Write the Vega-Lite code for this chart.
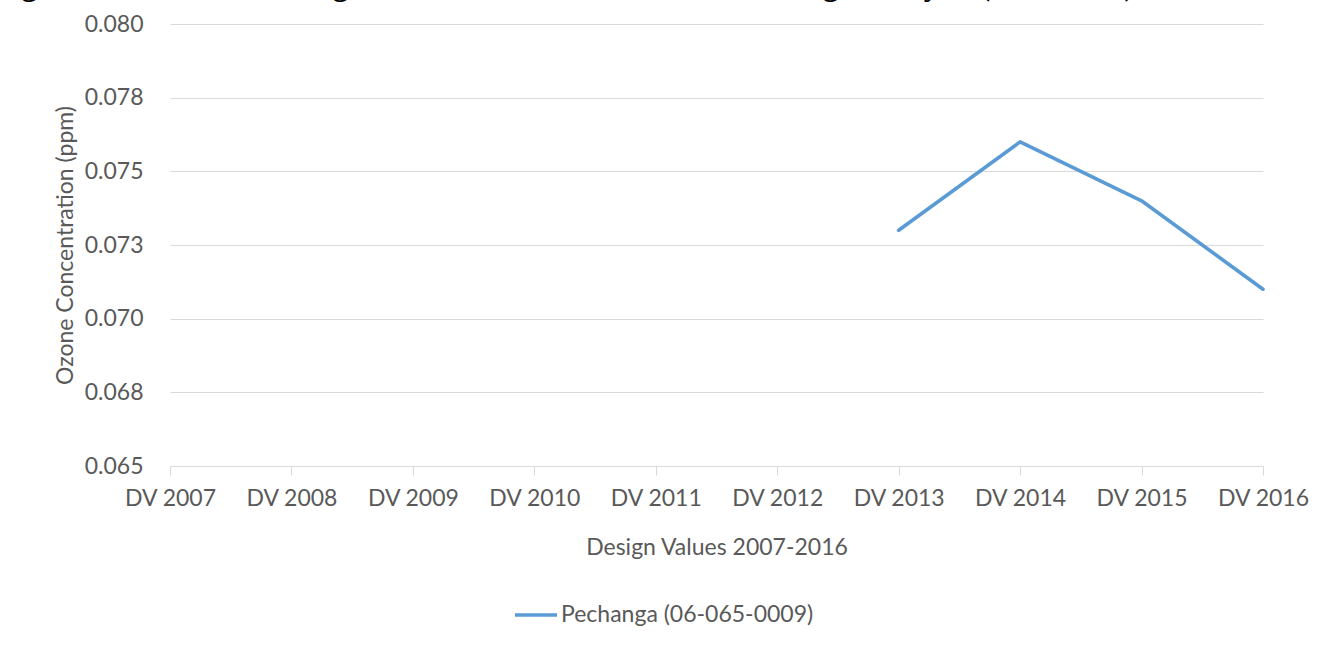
{
  "$schema": "https://vega.github.io/schema/vega-lite/v6.json",
  "autosize": {"type": "none"},
  "width": 1093,
  "height": 442,
  "padding": {"left": 170, "top": 24, "right": 68, "bottom": 179},
  "background": "white",
  "title": {
    "text": "Figure S1. Historical Design Values for Monitors in the Pechanga Analysis (2007-2016).",
    "anchor": "start",
    "frame": "group",
    "dx": -176,
    "dy": 13,
    "offset": 0,
    "baseline": "alphabetic",
    "font": "Liberation Serif",
    "fontSize": 31,
    "fontWeight": "bold",
    "color": "#000000"
  },
  "config": {
    "view": {"stroke": null},
    "font": "Lato"
  },
  "data": {
    "values": [
      {"dv": "DV 2013", "ozone": 0.073, "site": "Pechanga (06-065-0009)"},
      {"dv": "DV 2014", "ozone": 0.076, "site": "Pechanga (06-065-0009)"},
      {"dv": "DV 2015", "ozone": 0.074, "site": "Pechanga (06-065-0009)"},
      {"dv": "DV 2016", "ozone": 0.071, "site": "Pechanga (06-065-0009)"}
    ]
  },
  "mark": {"type": "line", "strokeWidth": 3.6, "strokeCap": "round", "strokeJoin": "round"},
  "encoding": {
    "x": {
      "field": "dv",
      "type": "ordinal",
      "scale": {
        "type": "point",
        "padding": 0,
        "domain": ["DV 2007", "DV 2008", "DV 2009", "DV 2010", "DV 2011", "DV 2012", "DV 2013", "DV 2014", "DV 2015", "DV 2016"]
      },
      "axis": {
        "title": "Design Values 2007-2016",
        "titleFont": "Lato",
        "titleFontSize": 23,
        "titleFontWeight": "normal",
        "titleColor": "#595959",
        "titlePadding": 26,
        "labelFont": "Lato",
        "labelFontSize": 23,
        "labelColor": "#595959",
        "labelAngle": 0,
        "labelPadding": 12,
        "labelBaseline": "top",
        "domainColor": "#D9D9D9",
        "domainWidth": 1,
        "tickColor": "#D9D9D9",
        "tickSize": 9,
        "tickWidth": 1,
        "grid": false
      }
    },
    "y": {
      "field": "ozone",
      "type": "quantitative",
      "scale": {"domain": [0.065, 0.08], "nice": false, "zero": false},
      "axis": {
        "title": "Ozone Concentration (ppm)",
        "titleFont": "Lato",
        "titleFontSize": 23,
        "titleFontWeight": "normal",
        "titleColor": "#595959",
        "titlePadding": 7,
        "values": [0.065, 0.0675, 0.07, 0.0725, 0.075, 0.0775, 0.08],
        "labelExpr": "format(datum.value + 0.000001, '.3f')",
        "labelFont": "Lato",
        "labelFontSize": 23,
        "labelColor": "#595959",
        "labelPadding": 27,
        "domain": false,
        "ticks": false,
        "grid": true,
        "gridColor": "#D9D9D9",
        "gridWidth": 1
      }
    },
    "color": {
      "field": "site",
      "type": "nominal",
      "scale": {"range": ["#5B9BD5"]},
      "legend": {
        "title": null,
        "orient": "none",
        "legendX": 343,
        "legendY": 568,
        "direction": "horizontal",
        "symbolType": "stroke",
        "symbolStrokeWidth": 3.6,
        "symbolSize": 1764,
        "labelFont": "Lato",
        "labelFontSize": 23,
        "labelColor": "#595959",
        "labelOffset": 2,
        "labelLimit": 0
      }
    }
  }
}
